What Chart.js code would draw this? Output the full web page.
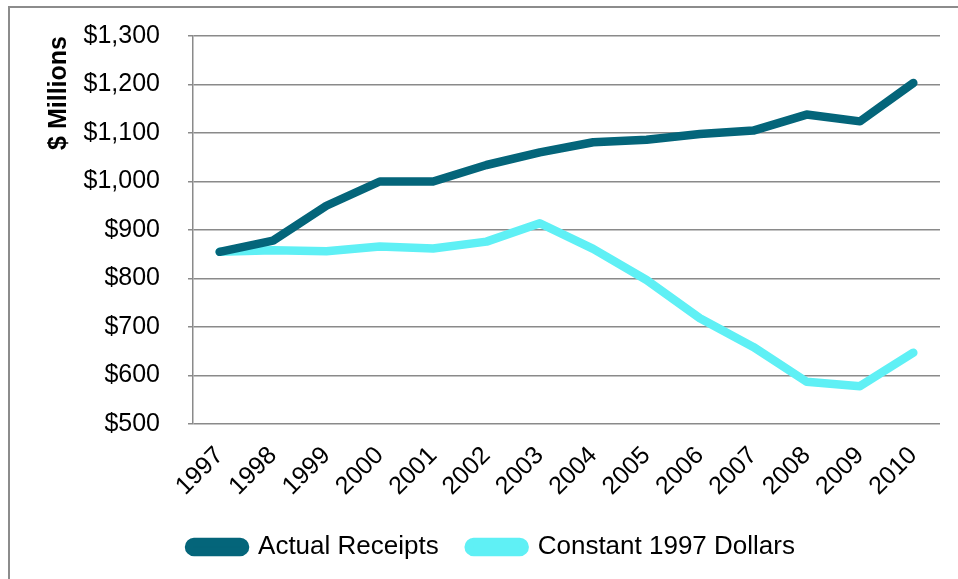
<!DOCTYPE html>
<html>
<head>
<meta charset="utf-8">
<script src="https://cdn.jsdelivr.net/npm/chart.js@4/dist/chart.umd.min.js"></script>
<style>
  html, body { margin: 0; padding: 0; background: #fff; }
  #wrap { width: 958px; height: 579px; position: relative; }
</style>
</head>
<body>
<div id="wrap"><canvas id="chart"></canvas></div>
<script>
// ===== DATA =====
const years = ['1997', '1998', '1999', '2000', '2001', '2002', '2003', '2004', '2005', '2006', '2007', '2008', '2009', '2010'];
const actualReceipts = [855, 878, 950, 1000, 1000, 1034, 1060, 1081, 1086, 1098, 1105, 1138, 1124, 1203];
const constantDollars = [855, 858, 856, 866, 862, 876, 914, 861, 797, 718, 659, 587, 578, 647];
const seriesNames = ['Actual Receipts', 'Constant 1997 Dollars'];
const yMin = 500, yMax = 1300, yStep = 100;

const FONT = '"Liberation Sans", Arial, sans-serif';
const gridGray = '#8a8a8a';

const fmtDollar = v => '$' + Number(v).toLocaleString('en-US');

// partial frame: top + left edge of the outer box
const framePlugin = {
  id: 'frame',
  beforeDraw(chart) {
    const { ctx, width, height } = chart;
    ctx.save();
    ctx.fillStyle = '#fff';
    ctx.fillRect(0, 0, width, height);
    ctx.strokeStyle = '#8c8c8c';
    ctx.lineWidth = 2;
    ctx.beginPath();
    ctx.moveTo(9, height);
    ctx.lineTo(9, 7);
    ctx.lineTo(width, 7);
    ctx.stroke();
    ctx.restore();
  }
};

new Chart(document.getElementById('chart'), {
  type: 'line',
  data: {
    labels: years,
    datasets: [
      { label: seriesNames[0], data: actualReceipts, borderColor: '#04657a', backgroundColor: '#04657a', borderWidth: 8.5, pointRadius: 0, tension: 0, borderCapStyle: 'round', borderJoinStyle: 'round' },
      { label: seriesNames[1], data: constantDollars, borderColor: '#5ff0f5', backgroundColor: '#5ff0f5', borderWidth: 8.5, pointRadius: 0, tension: 0, borderCapStyle: 'round', borderJoinStyle: 'round' }
    ]
  },
  options: {
    responsive: true,
    maintainAspectRatio: false,
    animation: false,
    layout: { padding: { left: 44, right: 18, top: 36, bottom: 9 } },
    plugins: {
      tooltip: { enabled: false },
      legend: {
        position: 'bottom',
        labels: {
          color: '#000', font: { family: FONT, size: 26 },
          boxWidth: 56, boxHeight: 10, padding: 30,
          useBorderRadius: true, borderRadius: 5
        }
      }
    },
    scales: {
      x: {
        offset: true,
        grid: { display: false },
        border: { display: false },
        ticks: { color: '#000', font: { family: FONT, size: 25 }, maxRotation: 45, minRotation: 45, padding: 9, autoSkip: false },
        afterFit: s => { s.height = 80; }
      },
      y: {
        min: yMin, max: yMax,
        grid: { color: gridGray, lineWidth: 1.5, tickLength: 5 },
        border: { color: gridGray, width: 1.5 },
        ticks: { stepSize: yStep, color: '#000', font: { family: FONT, size: 25 }, padding: 28, callback: fmtDollar },
        title: { display: true, text: '$ Millions', align: 'end', color: '#000', font: { family: FONT, size: 25, weight: 'bold' }, padding: { top: 0, bottom: 0 } },
        afterFit: s => { s.width = 149; s.paddingTop = 14; s.paddingBottom = 14; }
      }
    }
  },
  plugins: [framePlugin]
});
</script>
</body>
</html>
